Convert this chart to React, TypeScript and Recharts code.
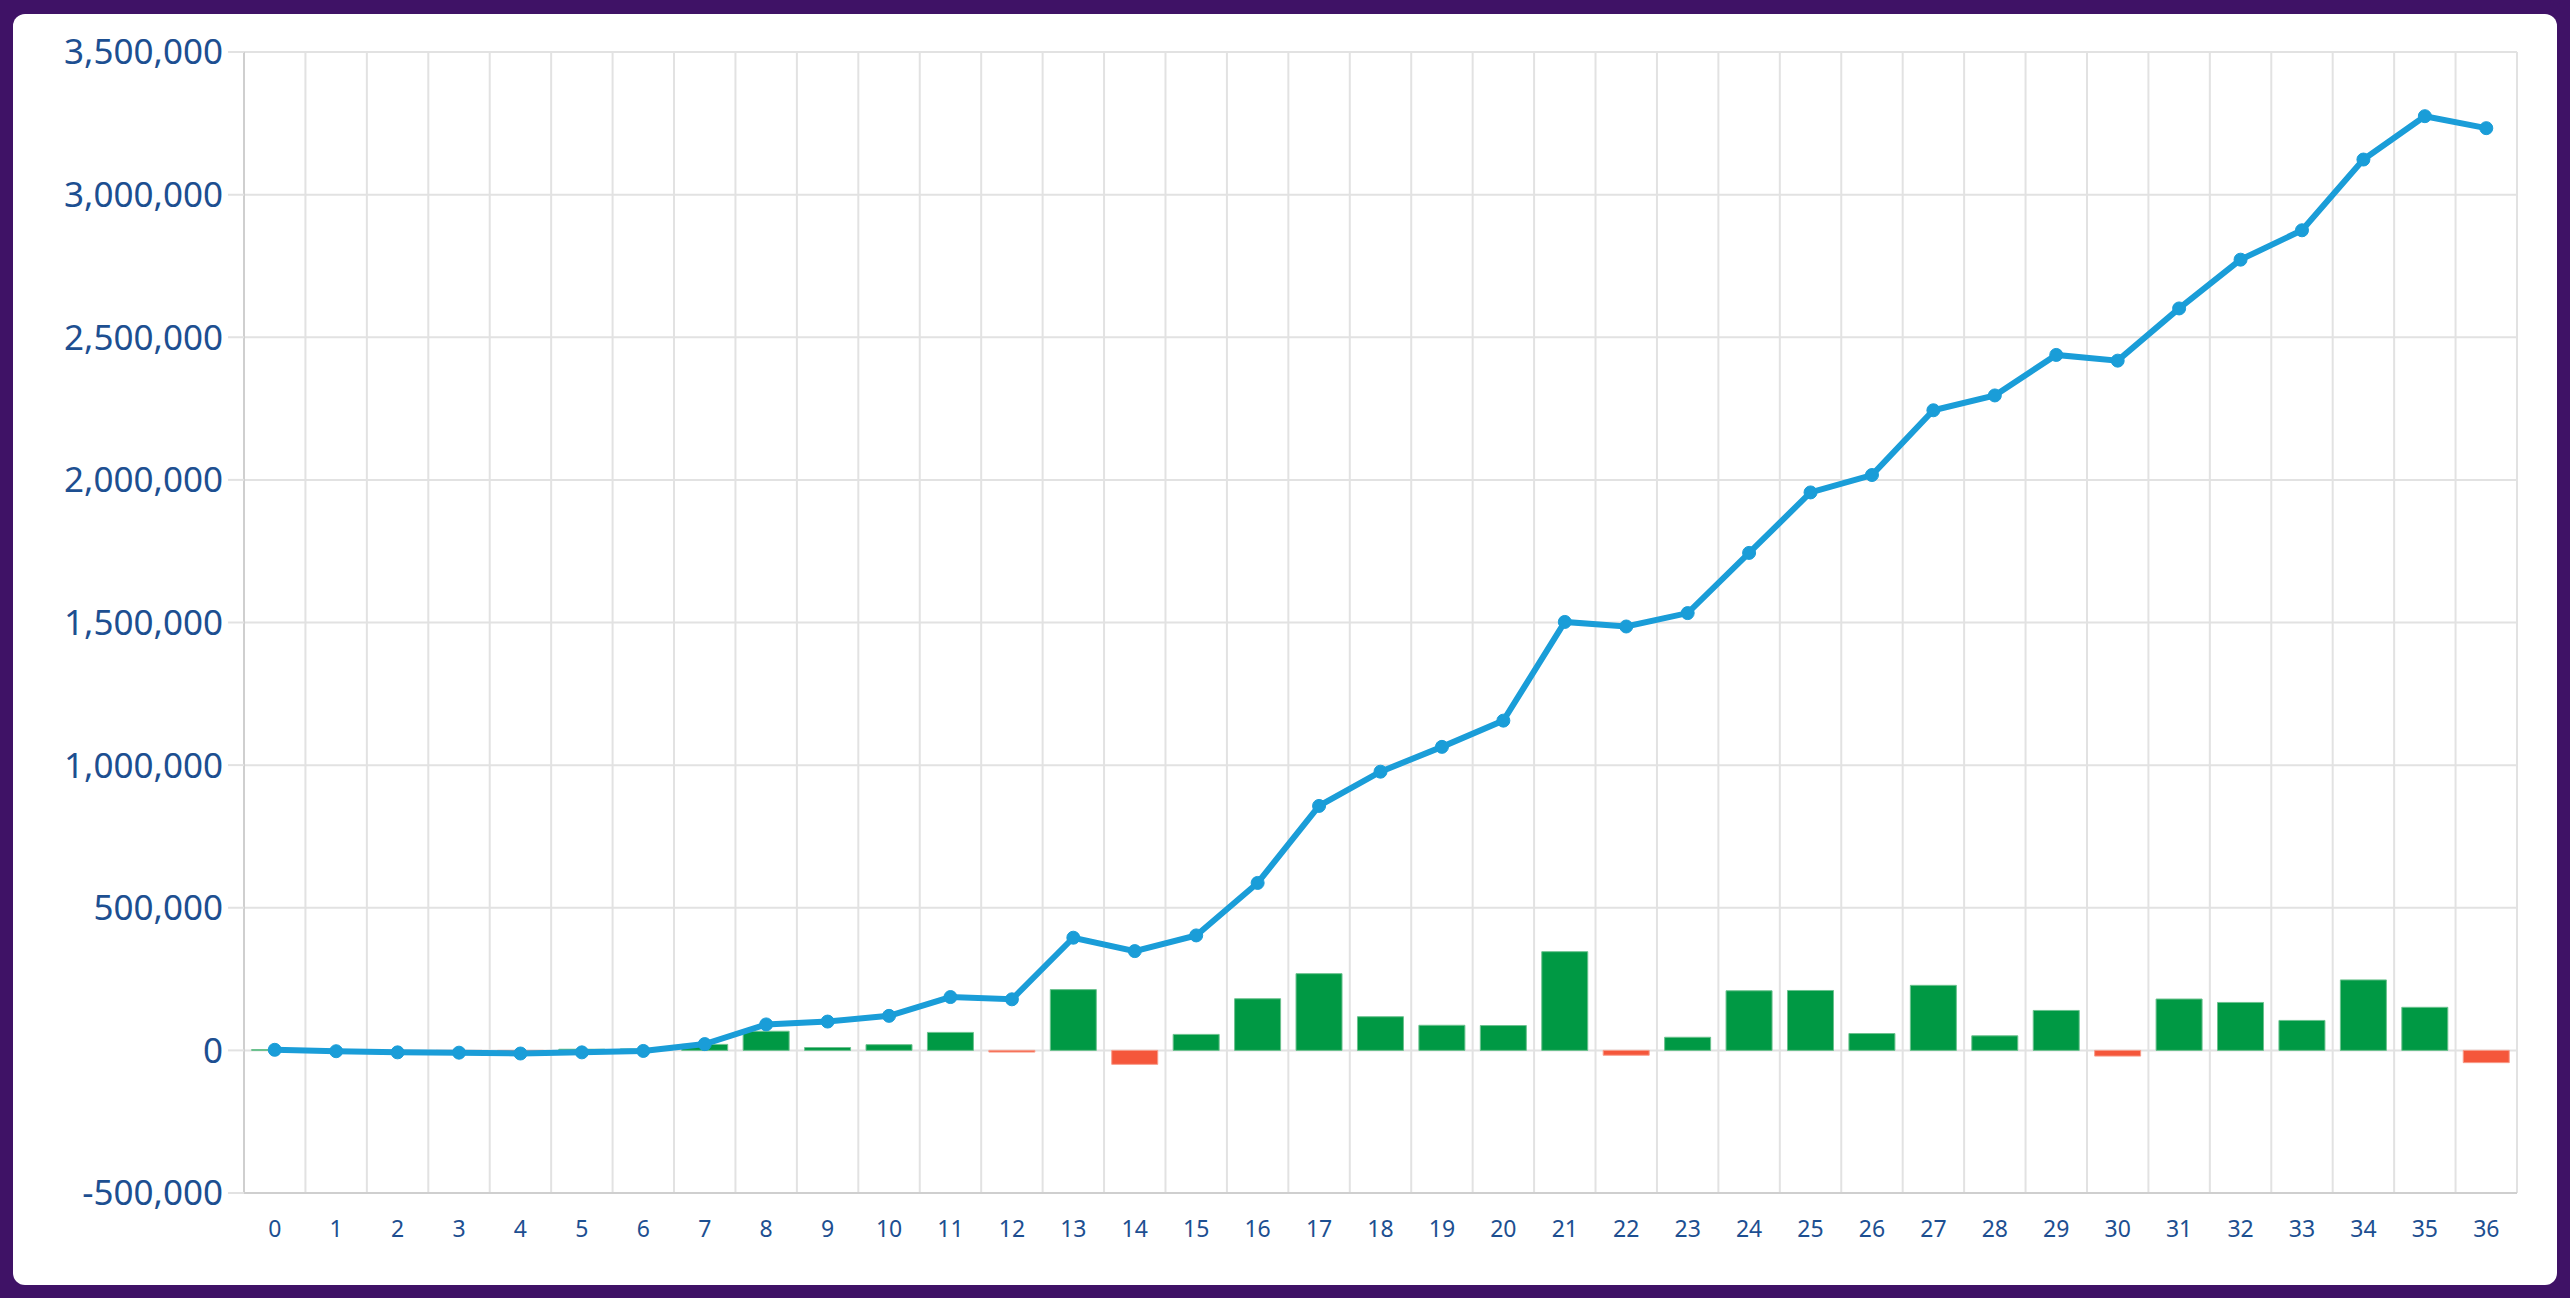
import {
  ComposedChart,
  Bar,
  Line,
  XAxis,
  YAxis,
  CartesianGrid,
  Cell,
} from 'recharts';

const periods = Array.from({ length: 37 }, (_, i) => String(i));

// cumulative total (line)
const cumulative = [
  2000, -3000, -7000, -8000, -11000, -7000, -2000, 22000, 91000, 101000,
  121000, 187000, 179000, 395000, 348000, 403000, 587000, 857000, 977000, 1064000,
  1156000, 1502000, 1486000, 1533000, 1744000, 1956000, 2017000, 2244000, 2296000, 2438000,
  2418000, 2601000, 2772000, 2875000, 3123000, 3275000, 3233000,
];

// per-period change (bars)
const change = [
  3000, -5000, -4000, -1000, -3000, 4000, 5000, 21000, 67000, 10000,
  20000, 63000, -6000, 213000, -49000, 56000, 181000, 269000, 118000, 88000,
  87000, 346000, -17000, 46000, 209000, 210000, 59000, 228000, 51000, 140000,
  -20000, 180000, 168000, 105000, 247000, 151000, -43000,
];

const yTicks = [-500000, 0, 500000, 1000000, 1500000, 2000000, 2500000, 3000000, 3500000];

const LINE = '#1a9dd8';
const UP = '#009944';
const DOWN = '#f5573b';
const LABEL = '#1d4f91';
const GRID = '#e2e2e2';
const AXIS = '#cfcfcf';

const data = periods.map((p, i) => ({
  period: p,
  pos: i,
  total: cumulative[i],
  diff: change[i],
}));

// band edges, used for the vertical grid and the x tick marks
const edges = Array.from({ length: periods.length + 1 }, (_, i) => i - 0.5);

export default function App() {
  return (
    <div
      style={{
        position: 'absolute',
        left: 0,
        top: 0,
        width: 2570,
        height: 1298,
        background: '#3f1266',
      }}
    >
      <div
        style={{
          position: 'absolute',
          left: 13,
          top: 14,
          width: 2544,
          height: 1271,
          background: '#ffffff',
          borderRadius: 12,
          overflow: 'hidden',
        }}
      >
        <ComposedChart
          width={2544}
          height={1271}
          data={data}
          margin={{ top: 38, right: 40, bottom: 0, left: 0 }}
          barCategoryGap="12.5%"
          style={{ fontFamily: '"Noto Sans", sans-serif' }}
        >
          <XAxis
            xAxisId="edge"
            type="number"
            dataKey="pos"
            domain={[-0.5, periods.length - 0.5]}
            ticks={edges}
            interval={0}
            allowDataOverflow
            tick={{ fontSize: 1, fill: 'none' }}
            tickFormatter={() => ''}
            axisLine={false}
            tickSize={17}
            tickLine={{ stroke: GRID, strokeWidth: 2 }}
            height={0}
          />
          <XAxis
            xAxisId="cat"
            dataKey="period"
            interval={0}
            height={92}
            tickLine={false}
            axisLine={{ stroke: AXIS, strokeWidth: 2 }}
            tickMargin={22}
            tick={{ fill: LABEL, fontSize: 23 }}
          />
          <YAxis
            domain={[-500000, 3500000]}
            ticks={yTicks}
            width={231}
            axisLine={{ stroke: AXIS, strokeWidth: 2 }}
            tickLine={{ stroke: GRID, strokeWidth: 2 }}
            tickSize={16}
            tickMargin={5}
            tick={{ fill: LABEL, fontSize: 35 }}
            tickFormatter={(v: number) => v.toLocaleString('en-US')}
          />
          <CartesianGrid xAxisId="edge" stroke={GRID} strokeWidth={2} />
          <Bar dataKey="diff" xAxisId="cat" isAnimationActive={false} strokeWidth={1}>
            {data.map((d, i) => (
              <Cell
                key={i}
                fill={d.diff >= 0 ? UP : DOWN}
                stroke={d.diff >= 0 ? '#6cc28f' : '#f89b89'}
              />
            ))}
          </Bar>
          <Line
            dataKey="total"
            xAxisId="cat"
            type="linear"
            stroke={LINE}
            strokeWidth={6}
            dot={{ r: 6.5, fill: LINE, stroke: LINE, strokeWidth: 1 }}
            activeDot={false}
            isAnimationActive={false}
          />
        </ComposedChart>
      </div>
    </div>
  );
}
